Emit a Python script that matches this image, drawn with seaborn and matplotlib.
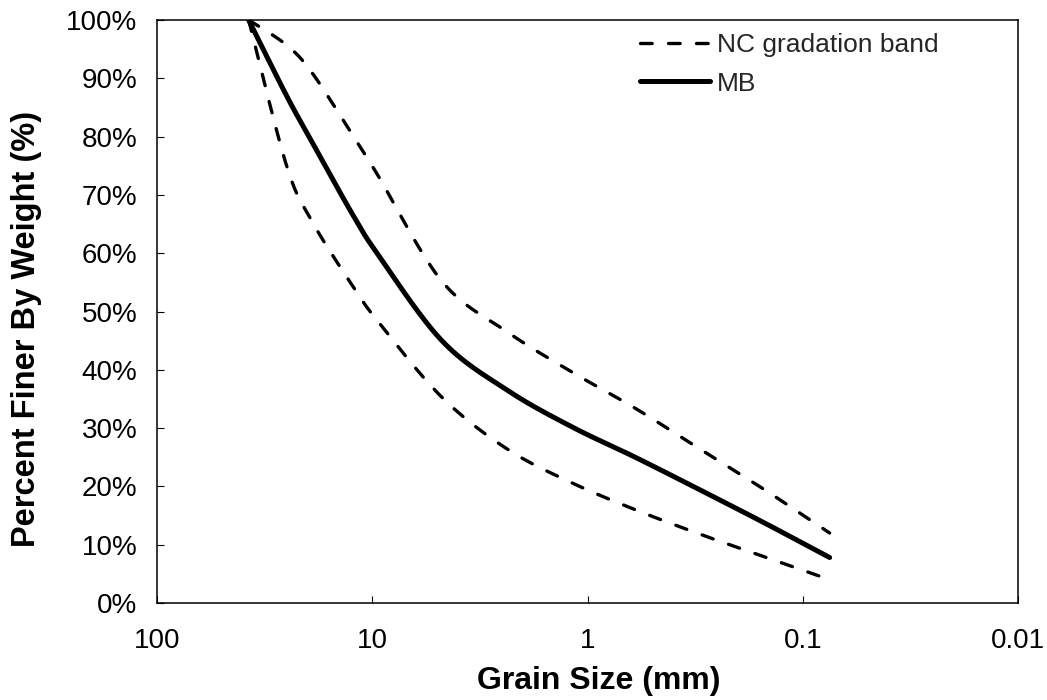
import numpy as np
import pandas as pd
import matplotlib
matplotlib.use("Agg")
import matplotlib.pyplot as plt
from matplotlib.lines import Line2D
import seaborn as sns

# Sieve sizes (mm) and percent passing for the gradation curves
sieve_mm = [37.5, 25, 19, 12.5, 9.5, 4.75, 2.36, 1.18, 0.6, 0.3, 0.15, 0.075]
nc_upper = [100, 95.7, 90.9, 80.6, 73.6, 55.2, 46.5, 39.6, 33.4, 26.4, 19.4, 12.0]
nc_lower = [100, 75.0, 65.4, 54.7, 48.5, 35.3, 26.4, 20.6, 16.0, 11.8, 7.9, 4.0]
mb_pass = [100, 87.0, 79.0, 67.0, 60.0, 45.0, 36.5, 30.2, 25.0, 19.4, 13.7, 7.8]

x_ticks = [100, 10, 1, 0.1, 0.01]
x_tick_labels = ["100", "10", "1", "0.1", "0.01"]
y_ticks = list(range(0, 101, 10))
y_tick_labels = [f"{v}%" for v in y_ticks]

sns.set_theme(style="white")
plt.rcParams["font.family"] = ["Liberation Sans", "DejaVu Sans"]

W, H = 1047, 700
L, R, T, B = 157, 1018, 20, 603
DEC_PX = (R - L) / 4.0      # pixels per decade on the log axis
PCT_PX = (B - T) / 100.0    # pixels per percent


def smooth_curve(x, y, n=40):
    """Catmull-Rom style Bezier smoothing done in screen-like space."""
    u = -np.log10(np.asarray(x, float)) * DEC_PX
    v = np.asarray(y, float) * PCT_PX
    P = np.column_stack([u, v])
    P = np.vstack([P[0], P, P[-1]])
    t = np.linspace(0, 1, n)[:, None]
    out = []
    for i in range(1, len(P) - 2):
        p0, p1, p2, p3 = P[i - 1], P[i], P[i + 1], P[i + 2]
        c1 = p1 + (p2 - p0) / 6.0
        c2 = p2 - (p3 - p1) / 6.0
        seg = ((1 - t) ** 3) * p1 + 3 * ((1 - t) ** 2) * t * c1 \
            + 3 * (1 - t) * t ** 2 * c2 + t ** 3 * p2
        out.append(seg if i == 1 else seg[1:])
    S = np.vstack(out)
    return 10 ** (-S[:, 0] / DEC_PX), S[:, 1] / PCT_PX


frames = []
for name, vals in [("upper", nc_upper), ("lower", nc_lower), ("MB", mb_pass)]:
    sx, sy = smooth_curve(sieve_mm, vals)
    frames.append(pd.DataFrame({"size": sx, "passing": sy, "curve": name,
                                "order": np.arange(len(sx))}))
df = pd.concat(frames, ignore_index=True)

fig = plt.figure(figsize=(W / 100, H / 100), dpi=100)
ax = fig.add_axes([L / W, 1 - B / H, (R - L) / W, (B - T) / H])

dash_kw = dict(color="black", linewidth=2.4, dashes=(3.5, 4.9),
               dash_capstyle="round")
for name in ["upper", "lower"]:
    sns.lineplot(data=df[df["curve"] == name], x="size", y="passing",
                 sort=False, estimator=None, ax=ax, legend=False, **dash_kw)
sns.lineplot(data=df[df["curve"] == "MB"], x="size", y="passing",
             sort=False, estimator=None, ax=ax, legend=False,
             color="black", linewidth=3.6, solid_capstyle="round")

ax.set_xscale("log")
ax.set_xlim(100, 0.01)
ax.set_ylim(0, 100)
ax.set_xticks(x_ticks)
ax.set_xticklabels(x_tick_labels)
ax.xaxis.set_minor_locator(matplotlib.ticker.NullLocator())
ax.set_yticks(y_ticks)
ax.set_yticklabels(y_tick_labels)

ax.tick_params(axis="both", which="major", direction="in", length=5,
               width=0.8, color="black", labelsize=20, labelcolor="black")
ax.tick_params(axis="x", pad=18, bottom=True)
ax.tick_params(axis="y", pad=14, left=True)

for s in ax.spines.values():
    s.set_color("black")
    s.set_linewidth(1.1)
    s.set_visible(True)

ax.set_xlabel("Grain Size (mm)", fontsize=23, fontweight="bold", color="black")
ax.set_ylabel("Percent Finer By Weight (%)", fontsize=23.5, fontweight="bold",
              color="black")
ax.xaxis.set_label_coords(0.513, -0.108)
ax.yaxis.set_label_coords(-0.134, 0.47)

handles = [
    Line2D([], [], **dash_kw),
    Line2D([], [], color="black", linewidth=3.6, solid_capstyle="round"),
]
fig.legend(handles, ["NC gradation band", "MB"], loc="upper left",
           bbox_to_anchor=(640 / W, 1 - 33 / H), frameon=False, fontsize=19,
           handlelength=2.65, handletextpad=0.25, labelspacing=0.55,
           borderpad=0, borderaxespad=0)

fig.savefig("out.png", dpi=100, facecolor="white")
